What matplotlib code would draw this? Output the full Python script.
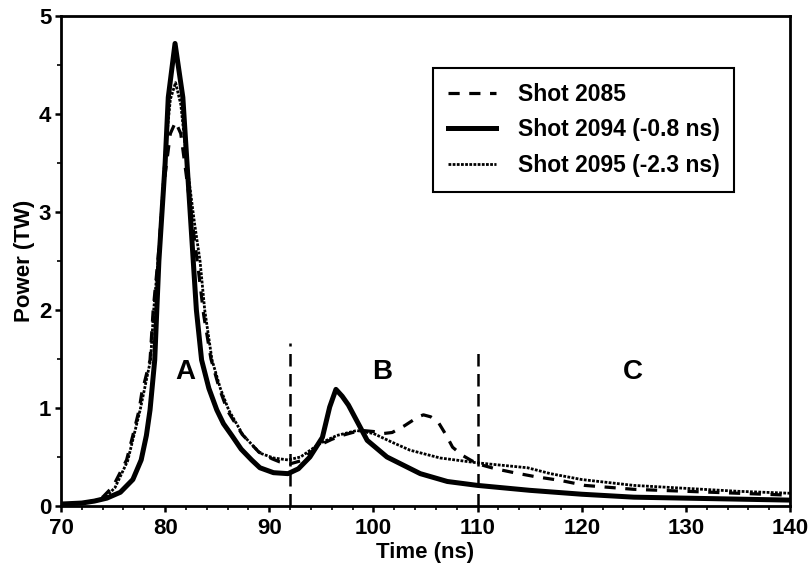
import numpy as np
import matplotlib
matplotlib.use('Agg')
import matplotlib.pyplot as plt

plt.rcParams.update({
    'font.family': ['Liberation Sans', 'DejaVu Sans'],
    'font.weight': 'bold',
    'axes.linewidth': 2.0,
})

# Shot 2085 (reference shot)
t_2085 = [70, 72, 73, 74, 75, 76.3, 76.9, 77.5, 77.75, 78.55, 78.85, 79.3, 79.9, 80.5,
          81.0, 81.5, 82.0, 82.6, 83.2, 83.7, 84.4, 85.2, 86.0, 87.4, 89.0, 90.3, 91,
          92, 93, 94, 95, 96, 97, 98, 99, 100, 101, 101.8, 103, 104.3, 104.8, 105.5,
          106.2, 107, 107.6, 108.5, 109.3, 110, 111.7, 113.5, 115.5, 118, 120.3, 125,
          130, 135, 140]
p_2085 = [0.02, 0.03, 0.05, 0.09, 0.2, 0.47, 0.72, 0.98, 1.15, 1.49, 2.0, 2.5, 3.3,
          3.8, 3.92, 3.8, 3.4, 2.9, 2.4, 1.95, 1.5, 1.2, 0.97, 0.73, 0.55, 0.48, 0.45,
          0.43, 0.46, 0.55, 0.63, 0.68, 0.72, 0.75, 0.77, 0.76, 0.74, 0.75, 0.82, 0.91,
          0.93, 0.91, 0.86, 0.72, 0.6, 0.52, 0.47, 0.43, 0.38, 0.34, 0.3, 0.26, 0.21,
          0.17, 0.15, 0.13, 0.11]

# Shot 2094 (-0.8 ns)
t_2094 = [70, 72, 73.2, 74.4, 75.7, 76.9, 77.7, 78.2, 78.55, 79.0, 79.2, 79.4, 80.0,
          80.3, 80.95, 81.7, 82.1, 82.7, 83.0, 83.5, 84.2, 84.96, 85.6, 86.4, 87.3,
          88.3, 89.1, 90.4, 91.8, 92.8, 93.9, 95.1, 95.8, 96.4, 97.0, 97.6, 98.5,
          99.4, 101.3, 104.5, 107.1, 110, 115, 120, 125, 130, 135, 140]
p_2094 = [0.02, 0.03, 0.05, 0.08, 0.14, 0.27, 0.47, 0.72, 0.98, 1.49, 2.0, 2.5, 3.5,
          4.17, 4.72, 4.17, 3.5, 2.5, 2.0, 1.49, 1.2, 0.98, 0.84, 0.72, 0.58, 0.47,
          0.39, 0.34, 0.33, 0.38, 0.5, 0.7, 1.01, 1.19, 1.12, 1.03, 0.85, 0.67, 0.5,
          0.33, 0.25, 0.21, 0.16, 0.12, 0.09, 0.08, 0.07, 0.06]

# Shot 2095 (-2.3 ns)
t_2095 = [70, 72, 73, 74.2, 75.2, 76.4, 77.0, 77.6, 78.6, 78.9, 79.4, 80.0, 80.5, 81.0,
          81.5, 82.2, 82.8, 83.35, 83.8, 84.5, 85.3, 86.1, 87.5, 89.1, 90.4, 91.8,
          93, 94.9, 96.5, 98.4, 100, 101.8, 103.5, 106.4, 110, 114.8, 117, 120, 125,
          130, 135, 140]
p_2095 = [0.02, 0.03, 0.05, 0.08, 0.19, 0.46, 0.72, 0.98, 1.49, 2.0, 2.6, 3.6, 4.15,
          4.32, 4.1, 3.4, 2.9, 2.5, 2.0, 1.49, 1.2, 0.98, 0.72, 0.54, 0.49, 0.47, 0.5,
          0.64, 0.72, 0.77, 0.74, 0.65, 0.57, 0.49, 0.44, 0.39, 0.33, 0.27, 0.21,
          0.18, 0.15, 0.13]

# Region boundaries and labels
boundaries = [92, 110]
boundary_tops = [1.66, 1.61]
region_labels = ['A', 'B', 'C']
region_x = [81.9, 100.8, 124.9]
region_y = [1.37, 1.37, 1.37]

fig = plt.figure(figsize=(8.09, 5.70), dpi=100)
ax = fig.add_axes([0.0754, 0.1123, 0.9011, 0.8596])

ax.plot(t_2085, p_2085, color='black', lw=2.3, ls=(0, (3.5, 3)), label='Shot 2085')
ax.plot(t_2094, p_2094, color='black', lw=3.6, ls='-', label='Shot 2094 (-0.8 ns)')
ax.plot(t_2095, p_2095, color='black', lw=2.0, ls=(0, (1, 0.5)),
        label='Shot 2095 (-2.3 ns)')

for xb, top in zip(boundaries, boundary_tops):
    ax.plot([xb, xb], [0, top], color='black', lw=1.8, ls=(0, (5, 3)))

for lab, x, y in zip(region_labels, region_x, region_y):
    ax.text(x, y, lab, fontsize=20, fontweight='bold', ha='center', va='center')

ax.set_xlim(70, 140)
ax.set_ylim(0, 5)
ax.set_xticks(np.arange(70, 141, 10))
ax.set_xticks(np.arange(70, 141, 2), minor=True)
ax.set_yticks(np.arange(0, 6, 1))
ax.set_yticks(np.arange(0, 5.1, 0.5), minor=True)
ax.tick_params(which='major', direction='out', length=4, width=1.8, labelsize=16)
ax.tick_params(axis='x', which='major', pad=5)
ax.tick_params(axis='y', which='major', pad=3)
ax.tick_params(which='minor', direction='out', length=3, width=1.2)
for lbl in ax.get_xticklabels() + ax.get_yticklabels():
    lbl.set_fontweight('bold')

ax.set_xlabel('Time (ns)', fontsize=16, fontweight='bold', labelpad=2)
ax.set_ylabel('Power (TW)', fontsize=16, fontweight='bold', labelpad=3)

leg = ax.legend(loc='upper left', bbox_to_anchor=(0.51, 0.894), borderaxespad=0,
                fancybox=False, edgecolor='black', framealpha=1,
                prop={'weight': 'bold', 'size': 16.5}, handlelength=2.1,
                handletextpad=0.95, borderpad=0.65, labelspacing=0.55)
leg.get_frame().set_linewidth(1.5)

fig.savefig('out.png', dpi=100)
plt.close(fig)
